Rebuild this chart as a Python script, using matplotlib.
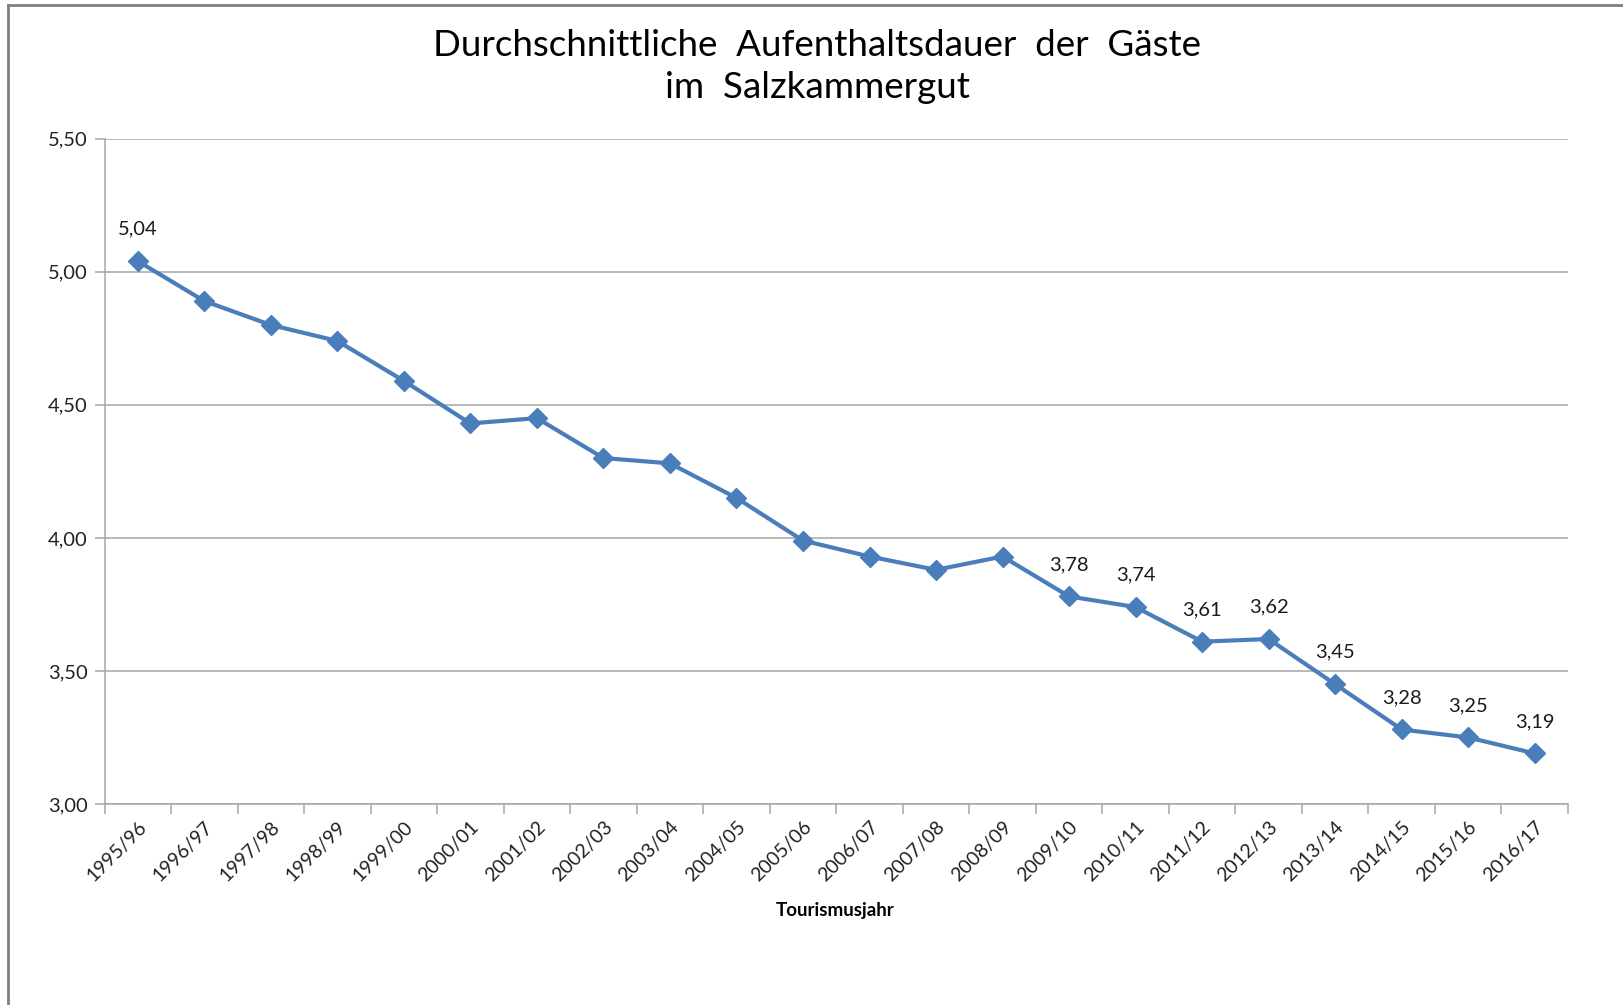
import matplotlib.pyplot as plt
from matplotlib.lines import Line2D

# Tourismusjahre und durchschnittliche Aufenthaltsdauer (Tage)
jahre = ["1995/96", "1996/97", "1997/98", "1998/99", "1999/00", "2000/01",
         "2001/02", "2002/03", "2003/04", "2004/05", "2005/06", "2006/07",
         "2007/08", "2008/09", "2009/10", "2010/11", "2011/12", "2012/13",
         "2013/14", "2014/15", "2015/16", "2016/17"]
dauer = [5.04, 4.89, 4.80, 4.74, 4.59, 4.43, 4.45, 4.30, 4.28, 4.15, 3.99,
         3.93, 3.88, 3.93, 3.78, 3.74, 3.61, 3.62, 3.45, 3.28, 3.25, 3.19]
# only these points carry a value label in the original
beschriftet = [0, 14, 15, 16, 17, 18, 19, 20, 21]
y_ticks = [3.0, 3.5, 4.0, 4.5, 5.0, 5.5]

plt.rcParams['font.family'] = ['Lato', 'DejaVu Sans']

W, H = 1623, 1005
fig = plt.figure(figsize=(W / 100, H / 100), dpi=100)
ax = fig.add_axes([104.5 / W, 1 - 804 / H, (1568 - 104.5) / W, (804 - 138.7) / H])

blau = '#4A7EBB'
x = list(range(len(jahre)))
ax.plot(x, dauer, color=blau, linewidth=3, marker='D', markersize=10,
        markerfacecolor=blau, markeredgecolor=blau, zorder=3)

for i in beschriftet:
    ax.annotate(f"{dauer[i]:.2f}".replace('.', ','), (x[i], dauer[i]),
                xytext=(0, 23), textcoords='offset points',
                ha='center', va='center', fontsize=14.5, color='#1a1a1a')

ax.set_xlim(-0.5, len(jahre) - 0.5)
ax.set_ylim(3.0, 5.5)
ax.set_yticks(y_ticks)
ax.set_yticklabels([f"{v:.2f}".replace('.', ',') for v in y_ticks], fontsize=14.5,
                   color='#222222')
ax.yaxis.grid(True, color='#a6a6a6', linewidth=1.1)
ax.set_axisbelow(True)

ax.set_xticks(x)
ax.set_xticklabels(jahre, rotation=45, ha='right', rotation_mode='anchor', fontsize=14,
                   color='#222222')
ax.tick_params(axis='x', length=0, pad=10)
ax.set_xticks([i - 0.5 for i in range(len(jahre) + 1)], minor=True)
ax.tick_params(axis='x', which='minor', length=7, color='#a6a6a6', width=1.1)
ax.tick_params(axis='y', length=7, color='#a6a6a6', width=1.1, pad=5)

for s in ['top', 'right']:
    ax.spines[s].set_visible(False)
for s in ['left', 'bottom']:
    ax.spines[s].set_color('#a6a6a6')
    ax.spines[s].set_linewidth(1.1)

fig.text(817 / W, 1 - 46 / H, "Durchschnittliche  Aufenthaltsdauer  der  Gäste",
         ha='center', va='center', fontsize=26.5)
fig.text(817 / W, 1 - 88 / H, "im  Salzkammergut", ha='center', va='center', fontsize=26.5)
fig.text(835 / W, 1 - 910 / H, "Tourismusjahr", ha='center', va='center',
         fontsize=13.5, fontweight='bold')

# outer chart frame (only top and left edges visible in the crop)
fig.add_artist(Line2D([8 / W, 1], [1 - 5 / H, 1 - 5 / H], color='#7f7f7f', linewidth=2))
fig.add_artist(Line2D([8 / W, 8 / W], [0, 1 - 5 / H], color='#7f7f7f', linewidth=2))

fig.savefig('out.png', dpi=100)
